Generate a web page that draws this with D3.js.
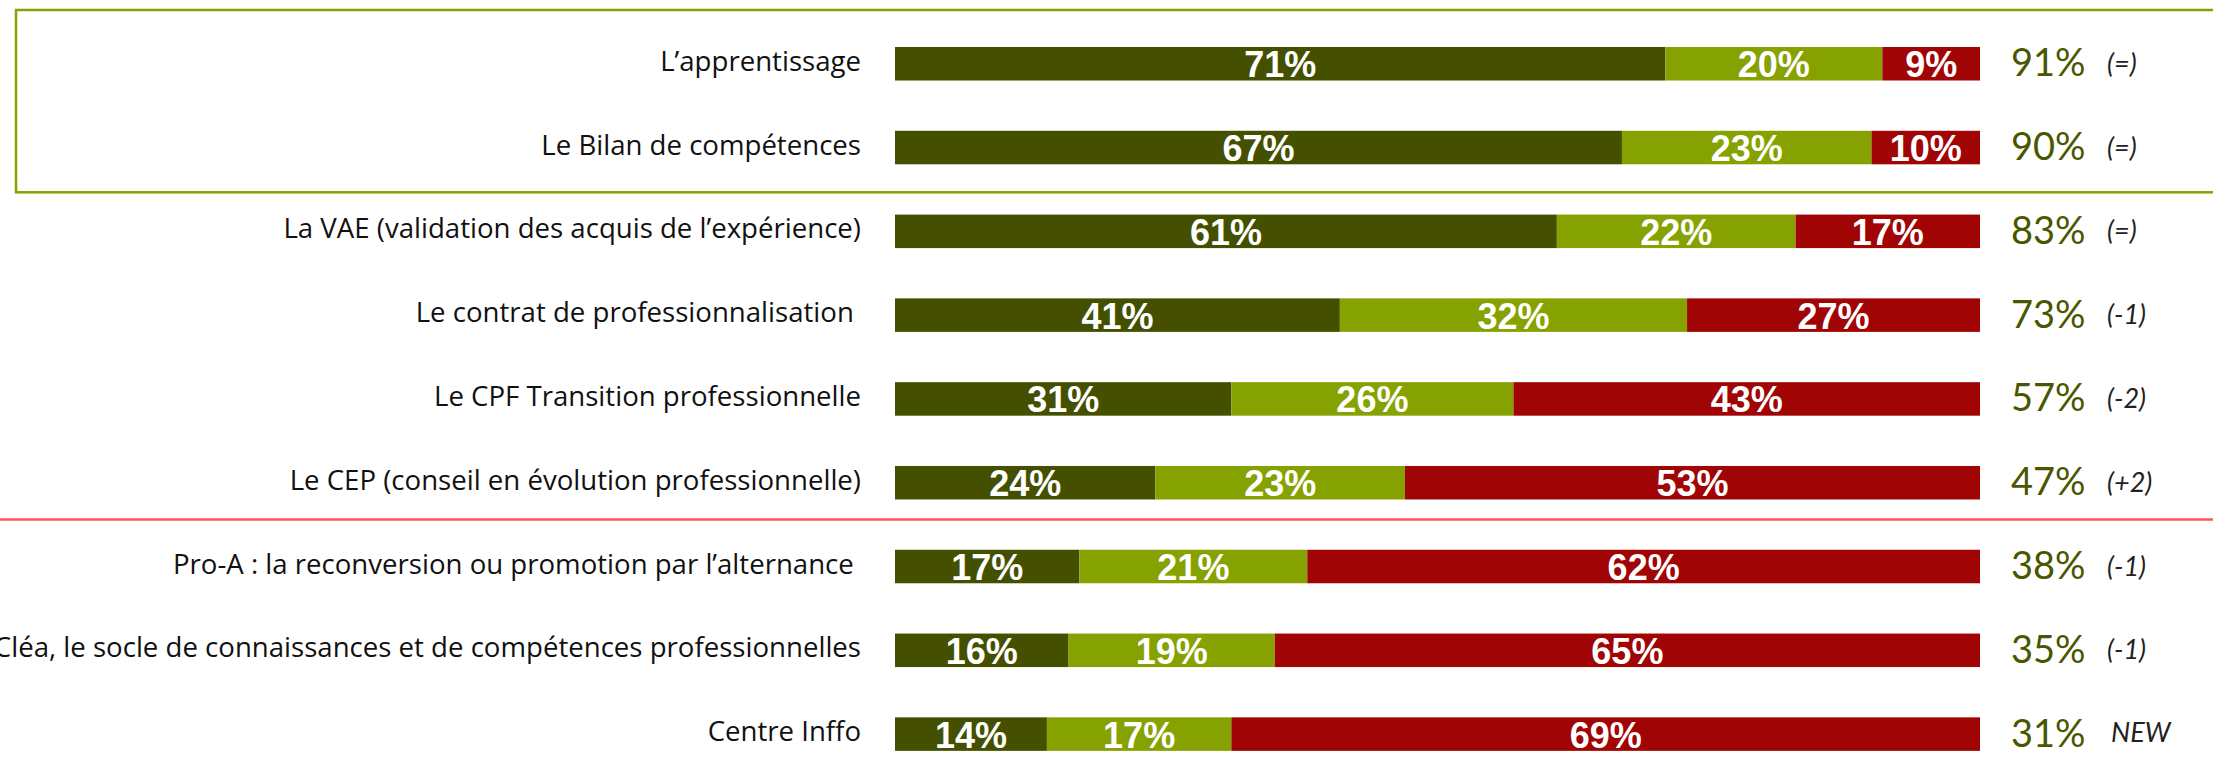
<!DOCTYPE html>
<html lang="fr">
    <head>
        <meta charset="UTF-8">
        <title>Dispositifs</title>
        <script src="https://d3js.org/d3.v7.min.js"></script>
        <style>
            body { margin: 0; padding: 0; background: #fff; overflow: hidden; }
            svg { display: block; }
            text { white-space: pre; }
        </style>
    </head>
    <body>
        <svg id="chart" width="2213" height="777"></svg>
        <script>
            const categories = [
                "L\u2019apprentissage",
                "Le Bilan de compétences",
                "La VAE (validation des acquis de l\u2019expérience)",
                "Le contrat de professionnalisation ",
                "Le CPF Transition professionnelle",
                "Le CEP (conseil en évolution professionnelle)",
                "Pro-A : la reconversion ou promotion par l\u2019alternance ",
                "Cléa, le socle de connaissances et de compétences professionnelles",
                "Centre Inffo"
            ];
            const bien = [71, 67, 61, 41, 31, 24, 17, 16, 14];
            const vaguement = [20, 23, 22, 32, 26, 23, 21, 19, 17];
            const pas = [9, 10, 17, 27, 43, 53, 62, 65, 69];
            const totals = [91, 90, 83, 73, 57, 47, 38, 35, 31];
            const changes = ["(=)", "(=)", "(=)", "(-1)", "(-2)", "(+2)", "(-1)", "(-1)", "NEW"];

            const colors = ["#445000", "#86a200", "#a00404"];
            const series = [bien, vaguement, pas];

            const svg = d3.select("#chart");

            const x = d3.scaleLinear().domain([0, 100]).range([895, 1980]);
            const y = d3.scaleBand().domain(categories).range([21.85, 776]).paddingInner(0.6).paddingOuter(0.3);
            const bw = y.bandwidth();

            // green frame around the top two rows
            svg.append("rect")
                .attr("x", 16)
                .attr("y", y(categories[0]) - 37)
                .attr("width", 2300)
                .attr("height", y(categories[1]) + bw + 28 - (y(categories[0]) - 37))
                .attr("fill", "none")
                .attr("stroke", "#86a200")
                .attr("stroke-width", 2.5);

            // red separator
            const sepY = y(categories[5]) + bw + 20;
            svg.append("line")
                .attr("x1", 0).attr("x2", 2213)
                .attr("y1", sepY).attr("y2", sepY)
                .attr("stroke", "#ff5757")
                .attr("stroke-width", 2.5);

            const rows = categories.map((c, i) => {
                let acc = 0;
                const segs = series.map((s, k) => {
                    const seg = {k: k, v: s[i], x0: acc, x1: acc + s[i]};
                    acc += s[i];
                    return seg;
                });
                return {cat: c, segs: segs, total: totals[i], change: changes[i]};
            });

            const row = svg.selectAll("g.row")
                .data(rows)
                .enter().append("g")
                .attr("class", "row")
                .attr("transform", d => `translate(0, ${y(d.cat)})`);

            row.append("text")
                .text(d => d.cat)
                .attr("x", 861)
                .attr("y", bw / 2 + 7)
                .attr("text-anchor", "end")
                .style("font-family", "'Open Sans', Lato, sans-serif")
                .style("font-size", "27.6px")
                .attr("fill", "#111");

            const seg = row.selectAll("g.seg")
                .data(d => d.segs)
                .enter().append("g");

            seg.append("rect")
                .attr("x", d => x(d.x0))
                .attr("width", d => x(d.x1) - x(d.x0))
                .attr("height", bw)
                .attr("fill", d => colors[d.k]);

            seg.append("text")
                .text(d => d.v + "%")
                .attr("x", d => (x(d.x0) + x(d.x1)) / 2)
                .attr("y", bw / 2 + 13.5)
                .attr("text-anchor", "middle")
                .style("font-family", "'Liberation Sans', Arial, sans-serif")
                .style("font-weight", "bold")
                .style("font-size", "36px")
                .attr("fill", "#fff");

            row.append("text")
                .text(d => d.total + "%")
                .attr("x", 2011)
                .attr("y", bw / 2 + 12.5)
                .style("font-family", "Lato, sans-serif")
                .style("font-size", "38px")
                .attr("fill", "#4a5700");

            row.append("text")
                .text(d => d.change)
                .attr("x", d => d.change === "NEW" ? 2111 : 2107)
                .attr("y", d => bw / 2 + (d.change === "NEW" ? 8 : 9))
                .style("font-family", "Lato, sans-serif")
                .style("font-style", "italic")
                .style("font-size", "27px")
                .attr("fill", "#222");
        </script>
    </body>
</html>
